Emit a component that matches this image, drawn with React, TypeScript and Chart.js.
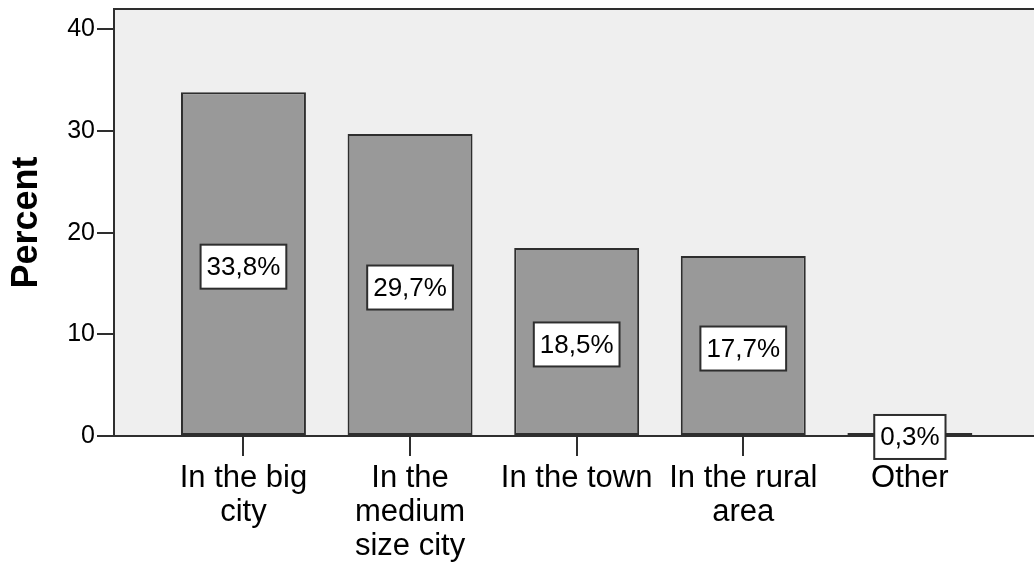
import React, { useEffect, useRef } from "react";
import { Chart, registerables } from "chart.js";

Chart.register(...registerables);

// Where respondents live, percent of sample
const categories: string[][] = [
  ["In the big", "city"],
  ["In the", "medium", "size city"],
  ["In the town"],
  ["In the rural", "area"],
  ["Other"],
];
const percents: number[] = [33.8, 29.7, 18.5, 17.7, 0.3];
const yTicks: number[] = [0, 10, 20, 30, 40];

const FONT = "'Liberation Sans', Arial, sans-serif";
const INK = "#2e2e2e";

// Light grey plotting panel with a rule along its top edge
const panelPlugin = {
  id: "panel",
  beforeDraw(chart: any) {
    const { ctx, chartArea } = chart;
    ctx.save();
    ctx.fillStyle = "#efefef";
    ctx.fillRect(chartArea.left, chartArea.top, chartArea.right - chartArea.left, chartArea.bottom - chartArea.top);
    ctx.strokeStyle = INK;
    ctx.lineWidth = 2;
    ctx.beginPath();
    ctx.moveTo(chartArea.left, chartArea.top);
    ctx.lineTo(chartArea.right, chartArea.top);
    ctx.stroke();
    ctx.restore();
  },
};

// Boxed percentage label in the middle of each bar
const boxLabelPlugin = {
  id: "boxLabels",
  afterDatasetsDraw(chart: any) {
    const { ctx } = chart;
    const meta = chart.getDatasetMeta(0);
    ctx.save();
    ctx.font = `26px ${FONT}`;
    ctx.textAlign = "center";
    ctx.textBaseline = "middle";
    meta.data.forEach((bar: any, i: number) => {
      const text = percents[i].toFixed(1).replace(".", ",") + "%";
      const w = ctx.measureText(text).width + 12;
      const h = 44;
      const cx = bar.x;
      const cy = (bar.y + bar.base) / 2 + 3;
      ctx.fillStyle = "#ffffff";
      ctx.fillRect(cx - w / 2, cy - h / 2, w, h);
      ctx.strokeStyle = INK;
      ctx.lineWidth = 2;
      ctx.strokeRect(cx - w / 2, cy - h / 2, w, h);
      ctx.fillStyle = "#000000";
      ctx.fillText(text, cx, cy + 1);
    });
    ctx.restore();
  },
};

export default function App() {
  const canvasRef = useRef<HTMLCanvasElement | null>(null);

  useEffect(() => {
    if (!canvasRef.current) return;
    const chart = new Chart(canvasRef.current, {
      type: "bar",
      data: {
        datasets: [
          {
            data: percents.map((v, i) => ({ x: i, y: v })),
            backgroundColor: "#999999",
            borderColor: INK,
            borderWidth: 2,
            borderSkipped: false,
            barPercentage: 0.75,
            categoryPercentage: 1,
          },
        ],
      },
      options: {
        animation: false,
        responsive: true,
        maintainAspectRatio: false,
        layout: { padding: 0 },
        plugins: {
          legend: { display: false },
          tooltip: { enabled: false },
        },
        scales: {
          x: {
            type: "linear",
            offset: false,
            min: -0.777,
            max: 4.745,
            afterBuildTicks: (scale: any) => {
              scale.ticks = categories.map((_, i) => ({ value: i }));
            },
            afterFit: (scale: any) => {
              scale.height = 131;
              scale.paddingLeft = 0;
              scale.paddingRight = 0;
            },
            grid: {
              display: true,
              offset: false,
              drawOnChartArea: false,
              drawTicks: true,
              tickLength: 20,
              color: INK,
              lineWidth: 2,
            },
            border: { display: true, color: INK, width: 2 },
            ticks: {
              autoSkip: false,
              maxRotation: 0,
              minRotation: 0,
              padding: 5,
              color: "#000000",
              font: { family: FONT, size: 31, lineHeight: 1.1 },
              callback: (value: any) => categories[Math.round(Number(value))] ?? "",
            },
          },
          y: {
            min: 0,
            max: 42,
            afterBuildTicks: (scale: any) => {
              scale.ticks = yTicks.map((v) => ({ value: v }));
            },
            afterFit: (scale: any) => {
              scale.width = 114;
              scale.paddingTop = 9;
              scale.paddingBottom = 0;
            },
            grid: {
              display: true,
              drawOnChartArea: false,
              drawTicks: true,
              tickLength: 17,
              color: INK,
              lineWidth: 2,
            },
            border: { display: true, color: INK, width: 2 },
            ticks: {
              padding: 2,
              color: "#000000",
              font: { family: FONT, size: 25 },
            },
            title: {
              display: true,
              text: "Percent",
              color: "#000000",
              font: { family: FONT, size: 36, weight: "bold" },
              padding: { top: 5, bottom: 0 },
            },
          },
        },
      },
      plugins: [panelPlugin, boxLabelPlugin],
    });
    return () => chart.destroy();
  }, []);

  return (
    <div style={{ position: "absolute", left: 0, top: 0, width: 1034, height: 567, background: "#ffffff" }}>
      <canvas ref={canvasRef} />
    </div>
  );
}
